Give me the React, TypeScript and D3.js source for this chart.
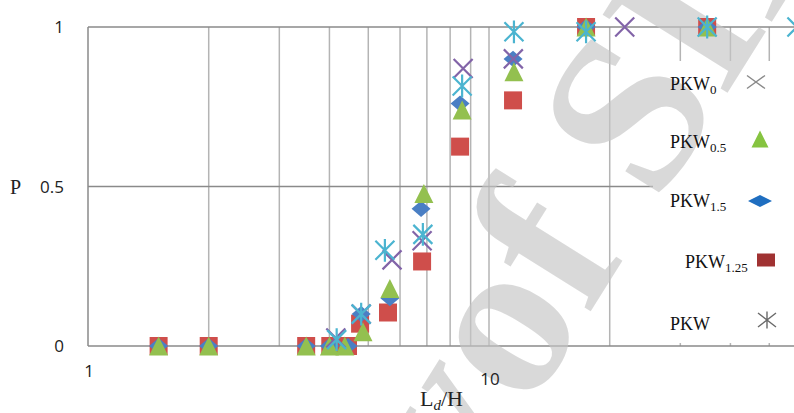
import React, { useEffect, useRef } from 'react';
import * as d3 from 'd3';

// series names as shown in the legend (base + subscript)
const seriesBase = ['PKW', 'PKW', 'PKW', 'PKW', 'PKW'];
const seriesSub = ['0', '0.5', '1.5', '1.25', ''];

// values (Ld/H, P)
const pkw0X = [4.15, 4.8, 5.73, 6.81, 8.62, 11.5, 21.8];
const pkw0P = [0.025, 0.1, 0.27, 0.33, 0.87, 0.9, 1];
const pkw05X = [1.5, 2, 3.5, 4.0, 4.37, 4.85, 5.66, 6.88, 8.57, 11.54, 17.46, 35];
const pkw05P = [0, 0, 0, 0, 0, 0.045, 0.18, 0.478, 0.74, 0.86, 1, 1];
const pkw15X = [1.5, 2, 3.5, 4.0, 4.45, 4.8, 5.66, 6.77, 8.47, 11.48, 17.46, 35];
const pkw15P = [0, 0, 0, 0, 0, 0.1, 0.15, 0.43, 0.76, 0.9, 1, 1];
const pkw125X = [1.5, 2, 3.5, 4.02, 4.45, 4.77, 5.6, 6.81, 8.47, 11.48, 17.46, 35];
const pkw125P = [0, 0, 0, 0, 0, 0.07, 0.105, 0.265, 0.625, 0.77, 1, 1];
const pkwX = [4.17, 4.8, 5.5, 6.84, 8.57, 11.54, 17.46, 35, 58.6];
const pkwP = [0.02, 0.1, 0.3, 0.35, 0.815, 0.985, 0.985, 1, 1];

const xTickValues = [1, 10];
const yTickValues = [0, 0.5, 1];
const xGridValues = [2, 3, 4, 5, 6, 7, 8, 9, 10, 20, 30, 40, 50, 60, 70, 80, 90];

const W = 794;
const H = 413;

const markerPath = (shape: string, s: number) => {
    const h = s / 2;
    if (shape === 'square') return `M${-h},${-h}H${h}V${h}H${-h}Z`;
    if (shape === 'triangle') return `M0,${-h}L${h},${h}L${-h},${h}Z`;
    if (shape === 'diamond') return `M0,${-h * 0.85}L${h},0L0,${h * 0.85}L${-h},0Z`;
    if (shape === 'x') return `M${-h},${-h}L${h},${h}M${h},${-h}L${-h},${h}`;
    // star: x plus vertical stroke
    return `M${-h},${-h}L${h},${h}M${h},${-h}L${-h},${h}M0,${-h * 1.2}V${h * 1.2}`;
};

const App = () => {
    const chartRef = useRef<SVGSVGElement>(null);

    useEffect(() => {
        const svg = d3.select(chartRef.current);
        svg.selectAll('*').remove();

        const x = d3.scaleLog().domain([1, 100]).range([88, 88 + 802]);
        const y = d3.scaleLinear().domain([0, 1]).range([346, 27]);

        svg.append('rect').attr('width', W).attr('height', H).attr('fill', '#fff');

        // vertical grid
        svg.append('g')
            .selectAll('line')
            .data(xGridValues)
            .enter()
            .append('line')
            .attr('x1', d => x(d)).attr('x2', d => x(d))
            .attr('y1', y(1)).attr('y2', y(0))
            .attr('stroke', '#b4b4b4')
            .attr('stroke-width', 1.5);

        // horizontal grid
        svg.append('g')
            .selectAll('line')
            .data(yTickValues)
            .enter()
            .append('line')
            .attr('x1', x(1)).attr('x2', W)
            .attr('y1', d => y(d)).attr('y2', d => y(d))
            .attr('stroke', '#8a8a8a')
            .attr('stroke-width', 1.5);

        svg.append('line')
            .attr('x1', x(1)).attr('x2', x(1))
            .attr('y1', y(1)).attr('y2', y(0))
            .attr('stroke', '#8a8a8a')
            .attr('stroke-width', 1.5);

        // legend background sits over the plot area
        svg.append('rect')
            .attr('x', 653).attr('y', 61)
            .attr('width', W - 653).attr('height', 343 - 61)
            .attr('fill', '#fff');

        // watermark
        const wm = svg.append('g')
            .attr('transform', 'translate(528,412) rotate(-58)')
            .attr('font-family', "'Liberation Serif', serif")
            .attr('font-weight', 'bold')
            .attr('font-size', 225)
            .attr('fill', '#c4c4c4')
            .attr('fill-opacity', 0.65);
        wm.append('text').attr('text-anchor', 'end').text('Society ');
        wm.append('text').text('of SIL');

        const series = [
            { xs: pkw125X, ps: pkw125P, shape: 'square', color: '#cf4e4b', size: 18 },
            { xs: pkw15X, ps: pkw15P, shape: 'diamond', color: '#4a7fc4', size: 19 },
            { xs: pkw05X, ps: pkw05P, shape: 'triangle', color: '#93c04f', size: 19 },
            { xs: pkw0X, ps: pkw0P, shape: 'x', color: '#8264a8', size: 19 },
            { xs: pkwX, ps: pkwP, shape: 'star', color: '#4bb4d0', size: 19 },
        ];

        series.forEach(s => {
            const pts = s.xs.map((v, i) => [v, s.ps[i]]);
            const stroked = s.shape === 'x' || s.shape === 'star';
            svg.append('g')
                .selectAll('path')
                .data(pts)
                .enter()
                .append('path')
                .attr('transform', d => `translate(${x(d[0])},${y(d[1])})`)
                .attr('d', markerPath(s.shape, s.size))
                .attr('fill', stroked ? 'none' : s.color)
                .attr('stroke', stroked ? s.color : 'none')
                .attr('stroke-width', 2.2);
        });

        // tick labels
        const numFont = "'Open Sans', sans-serif";
        svg.append('g')
            .selectAll('text')
            .data(yTickValues)
            .enter()
            .append('text')
            .attr('x', 64)
            .attr('y', d => y(d) + 6)
            .attr('text-anchor', 'end')
            .attr('font-family', numFont)
            .attr('font-size', 17)
            .attr('fill', '#222')
            .text(d => d3.format('')(d));

        svg.append('g')
            .selectAll('text')
            .data(xTickValues)
            .enter()
            .append('text')
            .attr('x', d => x(d) + 1)
            .attr('y', (d, i) => (i === 0 ? 377 : 385))
            .attr('text-anchor', 'middle')
            .attr('font-family', numFont)
            .attr('font-size', 17)
            .attr('fill', '#222')
            .text(d => String(d));

        // axis titles
        svg.append('text')
            .attr('x', 10).attr('y', 194)
            .attr('font-family', "'Liberation Serif', serif")
            .attr('font-size', 20)
            .attr('fill', '#222')
            .text('P');

        const xt = svg.append('text')
            .attr('x', 420).attr('y', 406)
            .attr('font-family', "'Liberation Serif', serif")
            .attr('font-size', 22)
            .attr('fill', '#222');
        xt.append('tspan').text('L');
        xt.append('tspan').attr('font-size', 15).attr('font-style', 'italic').attr('dy', 4).text('d');
        xt.append('tspan').attr('dy', -4).text('/H');

        // legend
        const legendText = [
            { x: 670, y: 90 },
            { x: 670, y: 148 },
            { x: 670, y: 207 },
            { x: 685, y: 268 },
            { x: 670, y: 330 },
        ];
        const legendMarks = [
            { x: 756, y: 82, shape: 'x', color: '#8a8a8a', w: 18, h: 13 },
            { x: 760, y: 139, shape: 'triangle', color: '#86c440', w: 17, h: 17 },
            { x: 760, y: 201, shape: 'diamond', color: '#1f6ec0', w: 24, h: 14 },
            { x: 766, y: 260, shape: 'square', color: '#a03232', w: 18, h: 13 },
            { x: 767, y: 320, shape: 'star', color: '#6a6a6a', w: 18, h: 14 },
        ];

        seriesBase.forEach((b, i) => {
            const t = svg.append('text')
                .attr('x', legendText[i].x).attr('y', legendText[i].y)
                .attr('font-family', "'Liberation Serif', serif")
                .attr('font-size', 18)
                .attr('fill', '#111');
            t.append('tspan').text(b);
            if (seriesSub[i]) {
                t.append('tspan').attr('font-size', 13).attr('dy', 4).text(seriesSub[i]);
            }
            const m = legendMarks[i];
            const stroked = m.shape === 'x' || m.shape === 'star';
            svg.append('path')
                .attr('transform', `translate(${m.x},${m.y}) scale(${m.w / 20},${m.h / 20})`)
                .attr('d', markerPath(m.shape, 20))
                .attr('fill', stroked ? 'none' : m.color)
                .attr('stroke', stroked ? m.color : 'none')
                .attr('stroke-width', 1.4)
                .attr('vector-effect', 'non-scaling-stroke');
        });
    }, []);

    return (
        <div style={{ position: 'absolute', left: 0, top: 0 }}>
            <svg ref={chartRef} width={W} height={H} style={{ display: 'block' }} />
        </div>
    );
};

export default App;
